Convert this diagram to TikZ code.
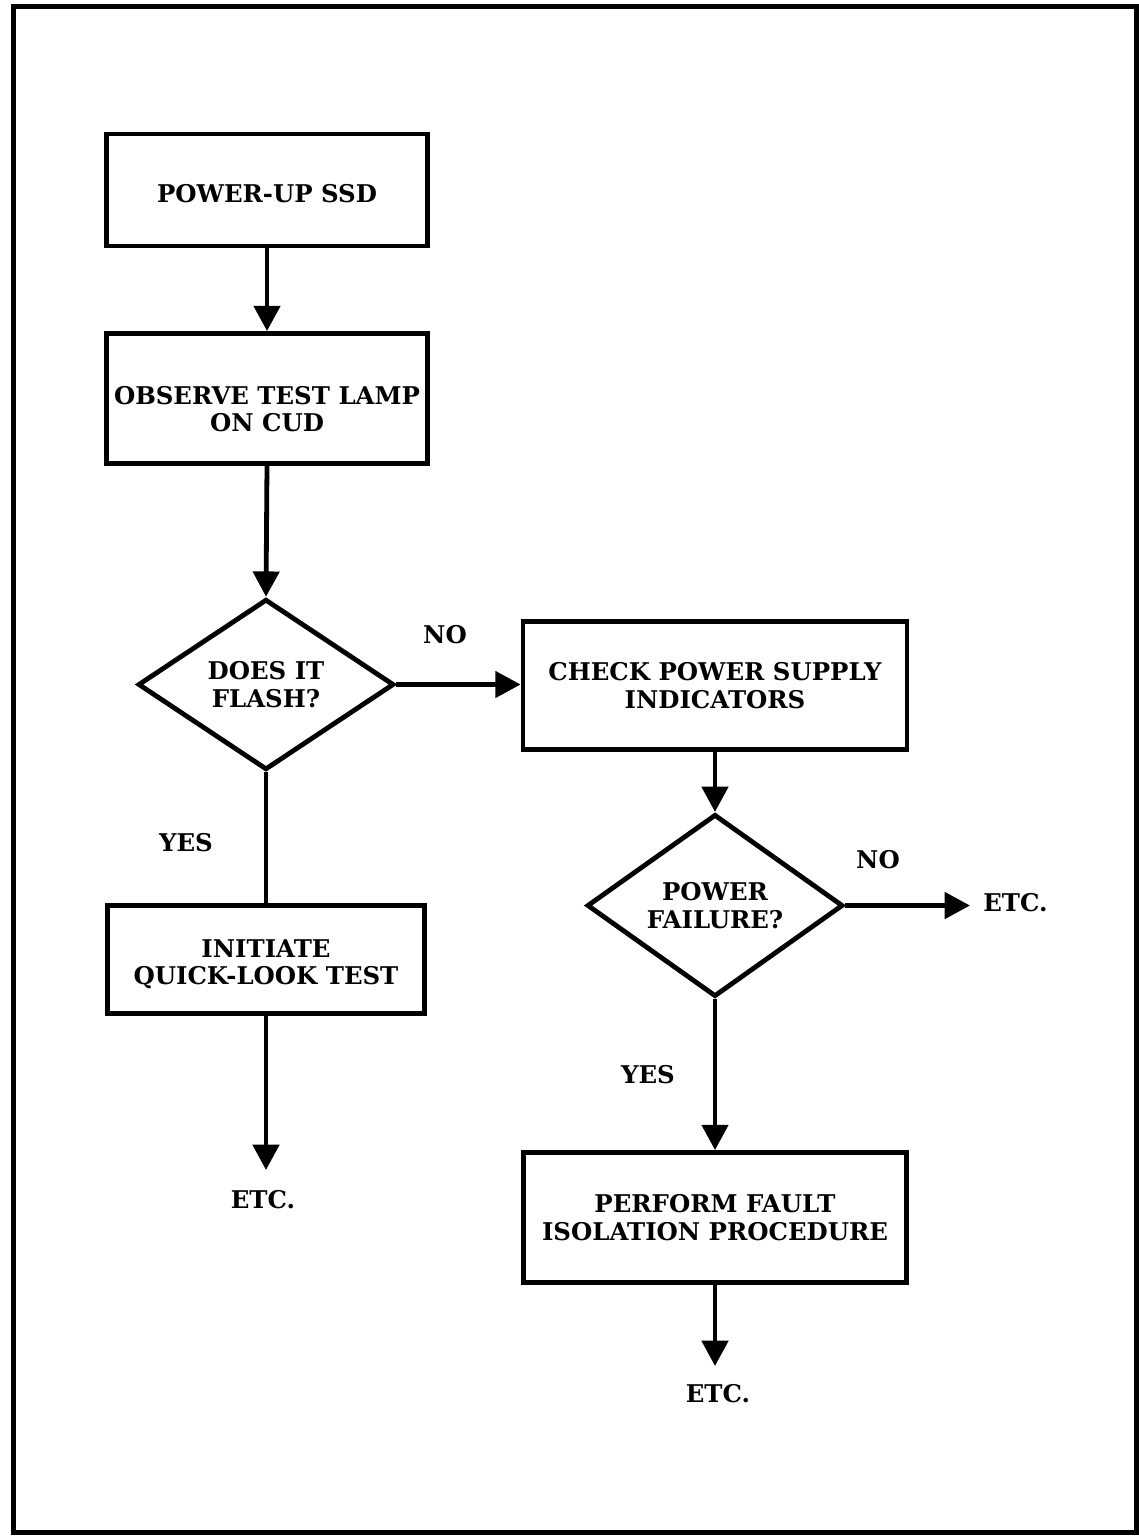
\documentclass[tikz,border=0pt]{standalone}
\usepackage{fontspec}
\setmainfont{DejaVu Serif}
\usetikzlibrary{shapes.geometric,arrows.meta}
\begin{document}
\begin{tikzpicture}[x=0.75pt,y=-0.75pt,
  lbl/.style={font=\fontsize{18.3}{20.5}\selectfont\bfseries, align=center, inner sep=0pt},
  box/.style={lbl, draw, line width=3.6pt, rectangle},
  dia/.style={lbl, draw, line width=3.6pt, diamond, minimum width=192pt, minimum height=128pt},
  conn/.style={line width=3.6pt},
  arr/.style={conn, -{Triangle[width=19.5pt,length=19pt]}}
]
\useasboundingbox (0,0) rectangle (1139,1536);
\fill[white] (0,0) rectangle (1139,1536);
\draw[line width=3.75pt] (13,6.5) rectangle (1136.5,1532.5);

% left column
\node[box, minimum width=240.75pt, minimum height=84pt] (b1) at (267,190) {\rule{0pt}{18.5pt}POWER-UP SSD};
\node[box, minimum width=240.75pt, minimum height=97.5pt] (b2) at (267,398.5) {\rule{0pt}{29pt}OBSERVE TEST LAMP\\ON CUD};
\node[dia] (d1) at (266,684.5) {DOES IT\\FLASH?};
\node[box, minimum width=237.75pt, minimum height=81pt] (b4) at (266,959.5) {\rule{0pt}{21pt}INITIATE\\QUICK-LOOK TEST};
\coordinate (e1) at (266,1170);

% right column
\node[box, minimum width=288pt, minimum height=96pt] (b3) at (715,685.5) {CHECK POWER SUPPLY\\INDICATORS};
\node[dia] (d2) at (715,905.5) {POWER\\FAILURE?};
\node[box, minimum width=287.25pt, minimum height=97.5pt] (b5) at (715,1217.5) {PERFORM FAULT\\ISOLATION PROCEDURE};
\coordinate (e3) at (715,1366);
\coordinate (e2) at (970,905.5);

% labels
\node[lbl] (no1) at (445,635) {NO};
\node[lbl] (no2) at (878,860) {NO};
\node[lbl, anchor=west] (etc2) at (983,903) {ETC.};
\node[lbl] (yes1) at (186,843) {YES};
\node[lbl] (yes2) at (648,1075) {YES};
\node[lbl] (etc1) at (263,1200) {ETC.};
\node[lbl] (etc3) at (718,1394) {ETC.};

% connectors
\draw[arr] (b1.south) -- (b2.north);
\draw[arr] (b2.south) -- (d1.north);
\draw[arr] (d1.east) -- (d1.east -| b3.west);
\draw[conn] (d1.south) -- (b4.north);
\draw[arr] (b4.south) -- (e1);
\draw[arr] (b3.south) -- (d2.north);
\draw[arr] (d2.east) -- (d2.east -| e2);
\draw[arr] (d2.south) -- (b5.north);
\draw[arr] (b5.south) -- (e3);
\end{tikzpicture}
\end{document}
